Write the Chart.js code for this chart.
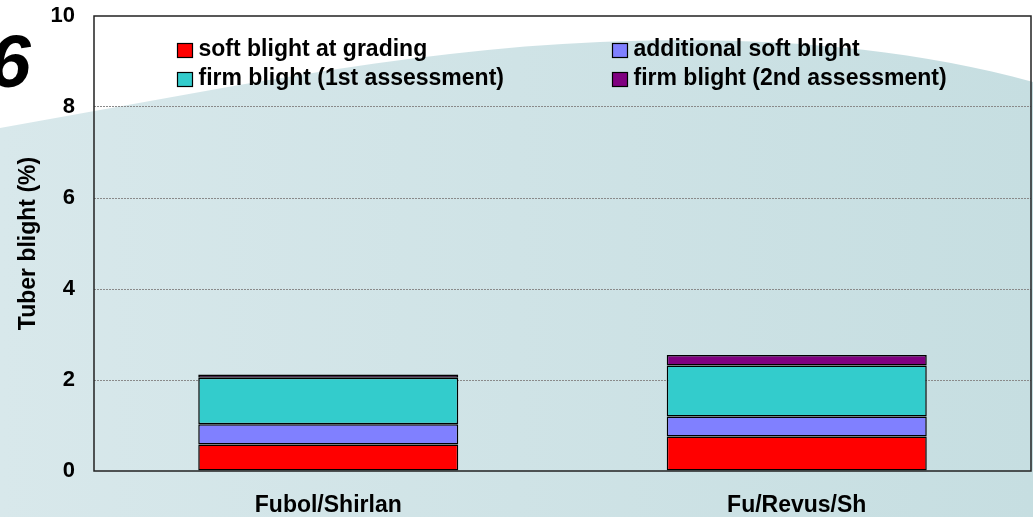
<!DOCTYPE html>
<html><head><meta charset="utf-8">
<script src="https://cdn.jsdelivr.net/npm/chart.js@4"></script>
<style>
html,body{margin:0;padding:0;background:#fff;overflow:hidden;}
#wrap{position:relative;width:1033px;height:517px;}
#big6{position:absolute;left:-11px;top:24px;font:italic bold 75px "Liberation Sans",Arial,sans-serif;line-height:1;color:#000;}
</style>
</head><body>
<div id="wrap"><canvas id="c" width="1033" height="517"></canvas><div id="big6">6</div></div>
<script>
const categories = ['Fubol/Shirlan', 'Fu/Revus/Sh'];
const seriesNames = ['soft blight at grading', 'additional soft blight', 'firm blight (1st assessment)', 'firm blight (2nd assessment)'];
const softAtGrading = [0.58, 0.76];
const additionalSoft = [0.45, 0.44];
const firm1st = [1.02, 1.12];
const firm2nd = [0.07, 0.23];
const yTickValues = [0, 2, 4, 6, 8, 10];
const seriesColors = ['#FF0000', '#8080FF', '#33CCCC', '#800080'];

const FONT = '"Liberation Sans", Arial, sans-serif';

const bgPlugin = {
  id: 'bg',
  beforeDraw(chart) {
    const {ctx, width, height} = chart;
    ctx.save();
    ctx.fillStyle = '#ffffff';
    ctx.fillRect(0, 0, width, height);
    const g = ctx.createLinearGradient(0, 0, width, 0);
    g.addColorStop(0, '#d8e8eb');
    g.addColorStop(1, '#c6dee1');
    ctx.beginPath();
    ctx.moveTo(0, 128);
    ctx.bezierCurveTo(200, 93, 400, 50, 600, 42);
    ctx.bezierCurveTo(750, 36, 900, 45, 1033, 82);
    ctx.lineTo(1033, height);
    ctx.lineTo(0, height);
    ctx.closePath();
    ctx.fillStyle = g;
    ctx.fill();
    ctx.restore();
  }
};

const framePlugin = {
  id: 'frame',
  afterDatasetsDraw(chart) {
    const {ctx, chartArea: a} = chart;
    ctx.save();
    ctx.strokeStyle = '#222';
    ctx.lineWidth = 1.5;
    ctx.strokeRect(a.left, a.top, a.right - a.left, a.bottom - a.top);
    ctx.restore();
  }
};

const legendPlugin = {
  id: 'customLegend',
  afterDraw(chart) {
    const {ctx} = chart;
    const pos = [[177.5, 50], [612.5, 50], [177.5, 79], [612.5, 79]];
    ctx.save();
    ctx.font = 'bold 23px ' + FONT;
    ctx.textBaseline = 'middle';
    ctx.textAlign = 'left';
    chart.data.datasets.forEach((ds, i) => {
      const [x, y] = pos[i];
      ctx.fillStyle = ds.backgroundColor;
      ctx.fillRect(x, y - 6.5, 15, 14);
      ctx.strokeStyle = '#000';
      ctx.lineWidth = 1.2;
      ctx.strokeRect(x, y - 6.5, 15, 14);
      ctx.fillStyle = '#000';
      ctx.fillText(ds.label, x + 21, y);
    });
    ctx.restore();
  }
};

const values = [softAtGrading, additionalSoft, firm1st, firm2nd];
new Chart(document.getElementById('c'), {
  type: 'bar',
  data: {
    labels: categories,
    datasets: seriesNames.map((n, i) => ({
      label: n,
      data: values[i],
      backgroundColor: seriesColors[i],
      borderColor: '#000',
      borderWidth: 1.5,
      borderSkipped: false,
      categoryPercentage: 1,
      barPercentage: 0.555
    }))
  },
  options: {
    responsive: false,
    animation: false,
    devicePixelRatio: 1,
    layout: {padding: {left: 0, top: 16, right: 2, bottom: 0}},
    plugins: {legend: {display: false}, tooltip: {enabled: false}},
    scales: {
      x: {
        stacked: true,
        grid: {display: false, drawTicks: false},
        border: {display: false},
        ticks: {color: '#000', font: {family: FONT, size: 23, weight: 'bold'}, padding: 21, maxRotation: 0},
        afterFit: s => { s.height = 46; s.paddingLeft = 0; s.paddingRight = 0; }
      },
      y: {
        stacked: true,
        min: 0, max: 10,
        afterBuildTicks: s => { s.ticks = yTickValues.map(v => ({value: v})); },
        ticks: {color: '#000', font: {family: FONT, size: 22, weight: 'bold'}, padding: 19},
        grid: {
          drawTicks: false,
          lineWidth: 1,
          color: c => (c.tick && (c.tick.value === 0 || c.tick.value === 10)) ? 'rgba(0,0,0,0)' : '#8a8a8a'
        },
        border: {display: false, dash: [2, 1]},
        title: {display: true, text: 'Tuber blight (%)', color: '#000', font: {family: FONT, size: 23, weight: 'bold'}, padding: {top: 15, bottom: 0}},
        afterFit: s => { s.width = 94; s.paddingTop = 0; s.paddingBottom = 0; }
      }
    }
  },
  plugins: [bgPlugin, framePlugin, legendPlugin]
});
</script>
</body></html>
